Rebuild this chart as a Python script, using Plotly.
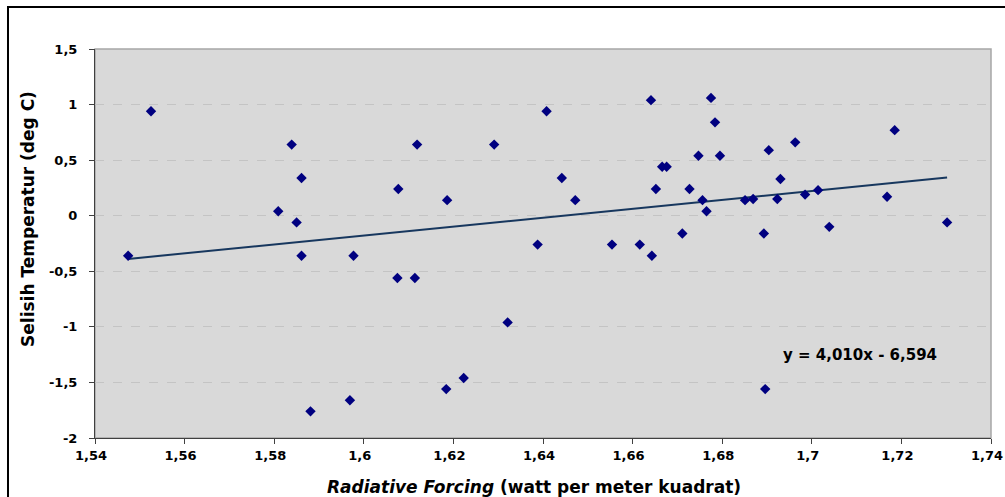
import plotly.graph_objects as go

# ---- data ----
forcing = [1.5474, 1.5525, 1.5809, 1.5839, 1.5850, 1.5861, 1.5861, 1.5881, 1.5969, 1.5977,
           1.6075, 1.6077, 1.6114, 1.6119, 1.6184, 1.6186, 1.6223, 1.6291, 1.6321, 1.6388,
           1.6408, 1.6442, 1.6472, 1.6554, 1.6616, 1.6641, 1.6643, 1.6652, 1.6666, 1.6676,
           1.6711, 1.6727, 1.6747, 1.6756, 1.6765, 1.6775, 1.6784, 1.6795, 1.6851, 1.6869,
           1.6893, 1.6896, 1.6904, 1.6923, 1.6930, 1.6963, 1.6985, 1.7014, 1.7039, 1.7168,
           1.7185, 1.7302]
temp_diff = [-0.36, 0.94, 0.04, 0.64, -0.06, 0.34, -0.36, -1.76, -1.66, -0.36,
             -0.56, 0.24, -0.56, 0.64, -1.56, 0.14, -1.46, 0.64, -0.96, -0.26,
             0.94, 0.34, 0.14, -0.26, -0.26, 1.04, -0.36, 0.24, 0.44, 0.44,
             -0.16, 0.24, 0.54, 0.14, 0.04, 1.06, 0.84, 0.54, 0.14, 0.15,
             -0.16, -1.56, 0.59, 0.15, 0.33, 0.66, 0.19, 0.23, -0.10, 0.17,
             0.77, -0.06]

trend_slope = 4.010
trend_intercept = -6.594
equation_text = "y = 4,010x - 6,594"

x_tickvals = [1.54, 1.56, 1.58, 1.60, 1.62, 1.64, 1.66, 1.68, 1.70, 1.72, 1.74]
x_ticktext = ["1,54", "1,56", "1,58", "1,6", "1,62", "1,64", "1,66", "1,68", "1,7", "1,72", "1,74"]
y_tickvals = [-2, -1.5, -1, -0.5, 0, 0.5, 1, 1.5]
y_ticktext = ["-2", "-1,5", "-1", "-0,5", "0", "0,5", "1", "1,5"]

x_title = "<i>Radiative Forcing</i> (watt per meter kuadrat)"
y_title = "Selisih Temperatur (deg C)"

# ---- figure ----
FONT = "DejaVu Sans"
trend_x = [min(forcing), max(forcing)]
trend_y = [trend_slope * v + trend_intercept for v in trend_x]

fig = go.Figure()
fig.add_trace(go.Scatter(
    x=trend_x, y=trend_y, mode="lines",
    line=dict(color="#17375E", width=2), showlegend=False, hoverinfo="skip"))
fig.add_trace(go.Scatter(
    x=forcing, y=temp_diff, mode="markers",
    marker=dict(symbol="diamond", size=8, color="#000080", line=dict(width=0)),
    showlegend=False))

axis_common = dict(
    showline=True, linecolor="#404040", linewidth=1,
    ticks="outside", ticklen=5, tickwidth=1, tickcolor="#404040",
    tickfont=dict(family=FONT, size=13, color="#000000", weight="bold"),
    zeroline=False, ticklabeloverflow="allow", automargin=False,
)
fig.update_xaxes(range=[1.54, 1.74], tickvals=x_tickvals, ticktext=x_ticktext,
                 showgrid=False, ticklabelshift=-4, **axis_common)
fig.update_yaxes(range=[-2, 1.5], tickvals=y_tickvals, ticktext=y_ticktext,
                 showgrid=True, gridcolor="#c4c4c4", griddash="dash", gridwidth=1,
                 ticklabelstandoff=9, **axis_common)

fig.update_layout(
    width=1005, height=497,
    margin=dict(l=95, r=14, t=49, b=59, autoexpand=False),
    paper_bgcolor="#ffffff", plot_bgcolor="#d9d9d9",
    font=dict(family=FONT, color="#000000"),
    shapes=[
        # plot-area border (top/right lighter gray)
        dict(type="rect", xref="paper", yref="paper", x0=0, x1=1, y0=0, y1=1,
             line=dict(color="#a6a6a6", width=1.5), layer="below"),
        # outer chart border
        dict(type="rect", xref="paper", yref="paper", x0=-0.0971, x1=1.5, y0=-0.5, y1=1.108,
             line=dict(color="#000000", width=2)),
    ],
    annotations=[
        dict(text=equation_text, xref="paper", yref="paper", x=0.766, y=0.2134,
             xanchor="left", yanchor="middle", showarrow=False,
             font=dict(family=FONT, size=15, color="#000000", weight="bold")),
        dict(text=x_title, xref="paper", yref="paper", x=0.4894, y=-0.126,
             xanchor="center", yanchor="middle", showarrow=False,
             font=dict(family=FONT, size=17, color="#000000", weight="bold")),
        dict(text=y_title, xref="paper", yref="paper", x=-0.0748, y=0.563,
             xanchor="center", yanchor="middle", showarrow=False, textangle=-90,
             font=dict(family=FONT, size=17, color="#000000", weight="bold")),
    ],
)

fig.write_html("out.html")
